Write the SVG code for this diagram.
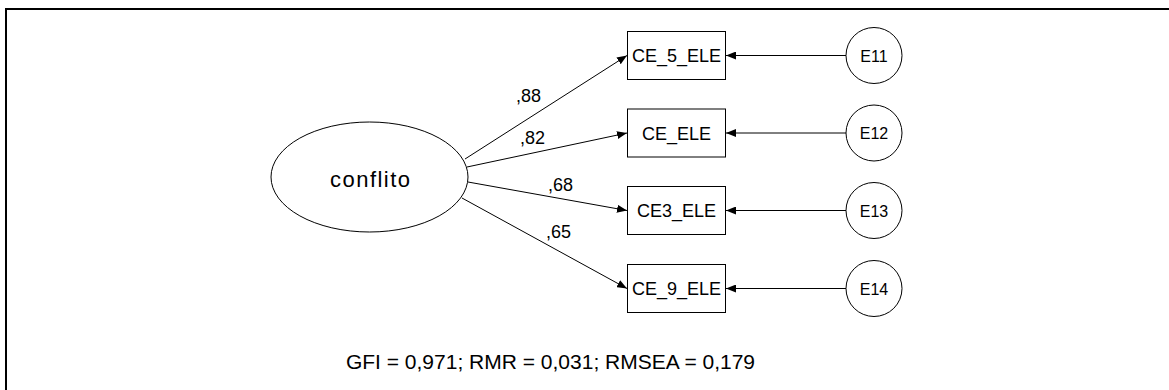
<svg xmlns="http://www.w3.org/2000/svg" width="1169" height="390" viewBox="0 0 1169 390">
  <defs>
    <marker id="head" viewBox="0 0 10 8" refX="10" refY="4" markerWidth="10" markerHeight="8" markerUnits="userSpaceOnUse" orient="auto">
      <path d="M0,0 L10,4 L0,8 Z" fill="#000"/>
    </marker>
    <style>
      .frame { fill: none; stroke: #000; stroke-width: 2; }
      .shape { fill: #fff; stroke: #000; stroke-width: 1; }
      .edge { fill: none; stroke: #000; stroke-width: 1; marker-end: url(#head); }
      .lbl { font-family: "Liberation Sans", Arial, sans-serif; font-size: 18px; fill: #000; }
      .err { font-family: "Liberation Sans", Arial, sans-serif; font-size: 16px; fill: #000; }
      .mid { text-anchor: middle; }
      .big { font-family: "Liberation Sans", Arial, sans-serif; font-size: 22px; fill: #000; }
      .fit { font-family: "Liberation Sans", Arial, sans-serif; font-size: 21px; fill: #000; }
    </style>
  </defs>
  <rect width="1169" height="390" fill="#fff"/>
  <!-- outer frame (runs past the right and bottom edges) -->
  <rect class="frame" x="6" y="9" width="1180" height="400"/>

  <g id="connectors">
    <line class="edge" x1="465" y1="159" x2="627" y2="55.5"/>
    <line class="edge" x1="467" y1="167" x2="627" y2="133"/>
    <line class="edge" x1="468" y1="182" x2="627" y2="210.5"/>
    <line class="edge" x1="462" y1="198" x2="627" y2="288.5"/>
    <line class="edge" x1="846" y1="55.5" x2="726" y2="55.5"/>
    <line class="edge" x1="846" y1="133" x2="726" y2="133"/>
    <line class="edge" x1="846" y1="210.5" x2="726" y2="210.5"/>
    <line class="edge" x1="846" y1="288.5" x2="726" y2="288.5"/>
    <text class="lbl" x="516" y="102">,88</text>
    <text class="lbl" x="520" y="144">,82</text>
    <text class="lbl" x="548" y="191">,68</text>
    <text class="lbl" x="546" y="238">,65</text>
  </g>

  <g id="conflito">
    <ellipse class="shape" cx="369.5" cy="177" rx="98.5" ry="55"/>
    <text class="big mid" x="370" y="187" textLength="80" lengthAdjust="spacing">conflito</text>
  </g>

  <g id="CE_5_ELE">
    <rect class="shape" x="627.5" y="31.5" width="98" height="48"/>
    <text class="lbl mid" x="676.5" y="62">CE_5_ELE</text>
  </g>
  <g id="CE_ELE">
    <rect class="shape" x="627.5" y="109" width="98" height="48"/>
    <text class="lbl mid" x="676.5" y="139.5">CE_ELE</text>
  </g>
  <g id="CE3_ELE">
    <rect class="shape" x="627.5" y="186.5" width="98" height="48"/>
    <text class="lbl mid" x="676.5" y="217">CE3_ELE</text>
  </g>
  <g id="CE_9_ELE">
    <rect class="shape" x="627.5" y="264.5" width="98" height="48"/>
    <text class="lbl mid" x="676.5" y="295">CE_9_ELE</text>
  </g>

  <g id="E11">
    <circle class="shape" cx="874" cy="55.5" r="28"/>
    <text class="err mid" x="874" y="61.5">E11</text>
  </g>
  <g id="E12">
    <circle class="shape" cx="874" cy="133" r="28"/>
    <text class="err mid" x="874" y="139">E12</text>
  </g>
  <g id="E13">
    <circle class="shape" cx="874" cy="210.5" r="28"/>
    <text class="err mid" x="874" y="216.5">E13</text>
  </g>
  <g id="E14">
    <circle class="shape" cx="874" cy="288.5" r="28"/>
    <text class="err mid" x="874" y="294.5">E14</text>
  </g>

  <text class="fit mid" x="550.5" y="369">GFI = 0,971; RMR = 0,031; RMSEA = 0,179</text>
</svg>
